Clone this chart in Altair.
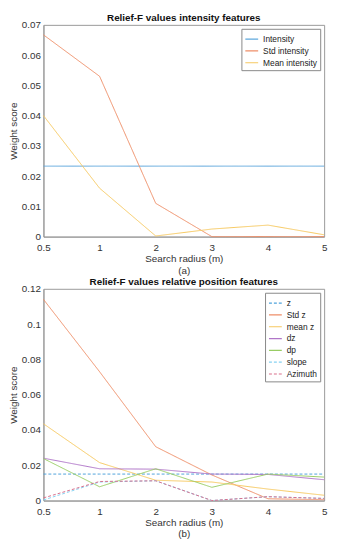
import altair as alt
import pandas as pd

radius_labels = ["0.5", "1", "2", "3", "4", "5"]
idx = [0, 1, 2, 3, 4, 5]

# Panel (a)
a_series = ["Intensity", "Std intensity", "Mean intensity"]
a_intensity = [0.0233, 0.0233, 0.0233, 0.0233, 0.0233, 0.0233]
a_std = [0.0667, 0.0530, 0.0110, 0.0000, 0.0000, 0.0000]
a_mean = [0.0400, 0.0160, 0.0002, 0.0025, 0.0038, 0.0006]
a_colors = ["#5fa8dc", "#ee8e68", "#f6c860"]

# Panel (b)
b_series = ["z", "Std z", "mean z", "dz", "dp", "slope", "Azimuth"]
b_z = [0.0150, 0.0150, 0.0150, 0.0150, 0.0150, 0.0150]
b_stdz = [0.1140, 0.0730, 0.0305, 0.0145, 0.0010, 0.0005]
b_meanz = [0.0435, 0.0215, 0.0115, 0.0105, 0.0065, 0.0030]
b_dz = [0.0240, 0.0180, 0.0178, 0.0150, 0.0148, 0.0118]
b_dp = [0.0238, 0.0078, 0.0180, 0.0075, 0.0150, 0.0133]
b_slope = [0.0003, 0.0105, 0.0112, 0.0000, 0.0022, 0.0012]
b_azimuth = [0.0015, 0.0108, 0.0112, 0.0000, 0.0022, 0.0012]
b_colors = ["#4fa3dc", "#ee8e68", "#f6c860", "#b076c8", "#98cc64", "#86d2f2", "#d9708c"]
b_dash = [[3, 2], [1, 0], [1, 0], [1, 0], [1, 0], [3, 2], [3, 2]]
a_dash = [[1, 0], [1, 0], [1, 0]]


def make_df(names, arrays):
    rows = []
    for n, arr in zip(names, arrays):
        for i, v in zip(idx, arr):
            rows.append({"series": n, "idx": i, "value": v})
    return pd.DataFrame(rows)


df_a = make_df(a_series, [a_intensity, a_std, a_mean])
df_b = make_df(b_series, [b_z, b_stdz, b_meanz, b_dz, b_dp, b_slope, b_azimuth])

label_expr = "['0.5','1','2','3','4','5'][datum.value]"
y_label_expr = "datum.value == 0 ? '0' : format(datum.value, '.2~f')"
FONT = "Liberation Sans"


def panel(df, names, colors, dashes, ymax, ystep, title, sub):
    yticks = [round(i * ystep, 4) for i in range(int(round(ymax / ystep)) + 1)]
    return alt.Chart(df, title=alt.TitleParams(title, fontSize=10, fontWeight="bold",
                                               font=FONT, color="#111111",
                                               offset=-3)).mark_line(strokeWidth=1).encode(
        x=alt.X("idx:Q", scale=alt.Scale(domain=[0, 5], nice=False),
                axis=alt.Axis(values=idx, labelExpr=label_expr, title=["Search radius (m)", sub],
                              grid=False, tickSize=0, domainColor="#999999", labelFlush=False,
                              labelFontSize=10, titleFontSize=10, titleFontWeight="normal",
                              labelColor="#333333", titleColor="#333333", labelPadding=6,
                              titlePadding=1, titleLineHeight=12, labelFont=FONT, titleFont=FONT)),
        y=alt.Y("value:Q", scale=alt.Scale(domain=[0, ymax], nice=False),
                axis=alt.Axis(values=yticks, labelExpr=y_label_expr, title="Weight score", grid=False,
                              tickSize=0, domainColor="#999999", labelFontSize=10, labelFlush=False,
                              titleFontSize=10, titleFontWeight="normal", labelColor="#333333",
                              titleColor="#333333", labelPadding=3, titlePadding=3,
                              labelFont=FONT, titleFont=FONT)),
        color=alt.Color("series:N", sort=names, scale=alt.Scale(domain=names, range=colors),
                        legend=alt.Legend(title=None, orient="top-right", symbolType="stroke",
                                          symbolSize=170, symbolStrokeWidth=1.2, labelFontSize=8.5,
                                          labelFont=FONT, labelColor="#222222",
                                          strokeColor="#888888", fillColor="white", padding=3,
                                          rowPadding=0, offset=4, labelLimit=200, labelOffset=4)),
        strokeDash=alt.StrokeDash("series:N", sort=names,
                                  scale=alt.Scale(domain=names, range=dashes), legend=None),
        detail="series:N",
    ).properties(width=285, height=215)


ca = panel(df_a, a_series, a_colors, a_dash, 0.07, 0.01, "Relief-F values intensity features", "(a)")
cb = panel(df_b, b_series, b_colors, b_dash, 0.12, 0.02, "Relief-F values relative position features", "(b)")

chart = alt.vconcat(ca, cb, spacing=0).resolve_scale(color="independent", strokeDash="independent").configure(
    padding={"left": 0, "top": 0, "right": 5, "bottom": 0},
    background="white",
).configure_view(stroke="#999999", strokeWidth=1)

chart.save("out.html", embed_options={"renderer": "svg", "actions": False})
